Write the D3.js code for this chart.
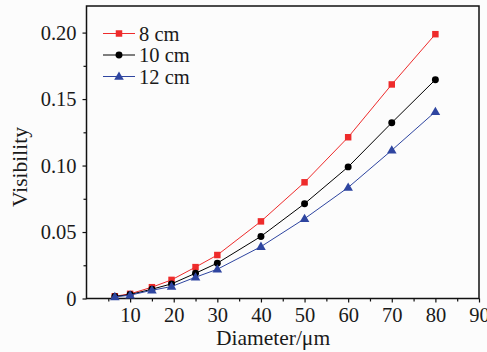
<!DOCTYPE html>
<html><head><meta charset="utf-8">
<script src="https://cdn.jsdelivr.net/npm/d3@7"></script>
<style>
html,body{margin:0;padding:0;background:#fcfcfc;}
svg text{font-family:"Liberation Serif","DejaVu Serif",serif;fill:#1a1a1a;}
</style></head>
<body><svg id="c" width="487" height="352"></svg>
<script>
const diameters = [6.5, 10, 15, 19.5, 25, 30, 40, 50, 60, 70, 80];
const vis8  = [0.0017, 0.0035, 0.0085, 0.014, 0.0236, 0.0327, 0.058, 0.0874, 0.1213, 0.161, 0.1988];
const vis10 = [0.0015, 0.003, 0.007, 0.011, 0.019, 0.0266, 0.0467, 0.0713, 0.099, 0.1322, 0.1646];
const vis12 = [0.0012, 0.0025, 0.0062, 0.009, 0.016, 0.022, 0.039, 0.060, 0.0835, 0.1115, 0.1405];
const seriesNames = ["8 cm", "10 cm", "12 cm"];
const xTicks = [10, 20, 30, 40, 50, 60, 70, 80, 90];
const yTicks = [0, 0.05, 0.10, 0.15, 0.20];
const yTickLabels = ["0", "0.05", "0.10", "0.15", "0.20"];

const colors = ["#ee2b2b", "#000000", "#2e45a0"];
const symbols = [d3.symbolSquare, d3.symbolCircle, d3.symbolTriangle];
const symSizes = [42, 38, 40];

const svg = d3.select("#c");
const L = 86.5, R = 479, T = 6, B = 298.5;
const x = d3.scaleLinear().domain([0, 90]).range([L, R]);
const y = d3.scaleLinear().domain([0, 0.22]).range([B, T]);
const FS = 20.5;

// frame
svg.append("rect").attr("x", L).attr("y", T).attr("width", R - L).attr("height", B - T)
  .attr("fill", "none").attr("stroke", "#111").attr("stroke-width", 1.5);

// x axis
svg.append("g").attr("transform", `translate(0,${B})`)
  .call(d3.axisBottom(x).tickValues(xTicks).tickSize(4).tickSizeOuter(0).tickPadding(5));
svg.append("g").attr("transform", `translate(0,${B})`)
  .call(d3.axisBottom(x).tickValues(d3.range(5, 90, 10)).tickSize(3).tickFormat("").tickSizeOuter(0));
// y axis
svg.append("g").attr("transform", `translate(${L},0)`)
  .call(d3.axisLeft(y).tickValues(yTicks).tickFormat((d, i) => yTickLabels[i]).tickSize(4).tickSizeOuter(0).tickPadding(6));
svg.append("g").attr("transform", `translate(${L},0)`)
  .call(d3.axisLeft(y).tickValues([0.025, 0.075, 0.125, 0.175]).tickSize(3).tickFormat("").tickSizeOuter(0));
svg.selectAll(".domain").remove();
svg.selectAll(".tick line").attr("stroke", "#111").attr("stroke-width", 1.2);
svg.selectAll(".tick text").attr("font-size", FS).attr("font-family", "Liberation Serif, serif").attr("fill", "#1a1a1a");

// axis labels
svg.append("text").attr("x", 273).attr("y", 345).attr("text-anchor", "middle")
  .attr("font-size", 21.5).text("Diameter/μm");
svg.append("text").attr("transform", "translate(27,167) rotate(-90)").attr("text-anchor", "middle")
  .attr("font-size", 21.5).text("Visibility");

// series
const all = [vis8, vis10, vis12];
const line = d3.line().x((d, i) => x(diameters[i])).y(d => y(d));
all.forEach((vals, k) => {
  svg.append("path").datum(vals).attr("d", line).attr("fill", "none")
    .attr("stroke", colors[k]).attr("stroke-width", 1);
  svg.append("g").selectAll("path").data(vals).join("path")
    .attr("transform", (d, i) => `translate(${x(diameters[i])},${y(d) + (k === 2 ? 0.5 : 0)})`)
    .attr("d", d3.symbol().type(symbols[k]).size(symSizes[k]))
    .attr("fill", colors[k]);
});

// legend
const lg = svg.append("g");
seriesNames.forEach((name, k) => {
  const cy = 33.5 + k * 21.5;
  lg.append("line").attr("x1", 103).attr("x2", 135).attr("y1", cy).attr("y2", cy)
    .attr("stroke", colors[k]).attr("stroke-width", 1);
  lg.append("path").attr("transform", `translate(119,${cy + (k === 2 ? 0.5 : 0)})`)
    .attr("d", d3.symbol().type(symbols[k]).size(symSizes[k])).attr("fill", colors[k]);
  lg.append("text").attr("x", 139).attr("y", cy + 7).attr("font-size", FS).text(name);
});
</script></body></html>
